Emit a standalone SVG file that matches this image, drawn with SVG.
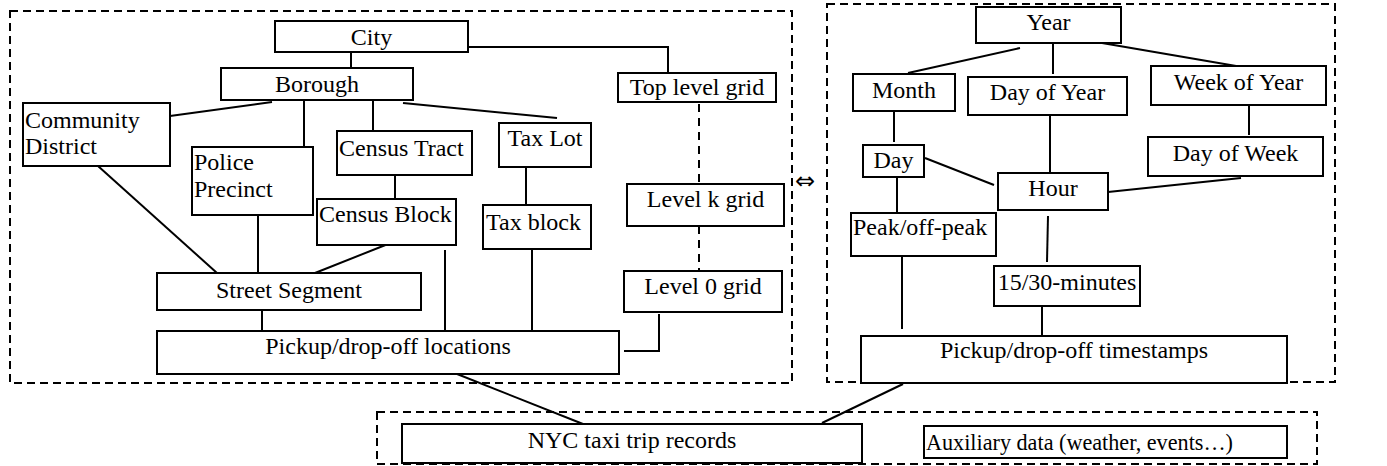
<svg xmlns="http://www.w3.org/2000/svg" width="1387" height="466" viewBox="0 0 1387 466">
  <style>
    .box { fill: #fff; stroke: #000; stroke-width: 2; }
    .frame { fill: none; stroke: #000; stroke-width: 2; stroke-dasharray: 8 5; }
    .link { fill: none; stroke: #000; stroke-width: 2; }
    .dash { fill: none; stroke: #000; stroke-width: 2; stroke-dasharray: 8 6; }
    .lbl { font-family: 'Liberation Serif', Tinos, 'Times New Roman', 'DejaVu Serif', serif; font-size: 24px; fill: #000; }
    .c { text-anchor: middle; }
  </style>
  <rect width="1387" height="466" fill="#fff"/>

  <!-- panel frames -->
  <g id="frames">
    <rect class="frame" x="10" y="11" width="782" height="372"/>
    <rect class="frame" x="827" y="4" width="508" height="378"/>
    <rect class="frame" x="377" y="412" width="940" height="52"/>
  </g>

  <!-- connectors -->
  <g id="connectors">
    <!-- spatial hierarchy -->
    <line class="link" x1="351" y1="52" x2="351" y2="68"/>
    <polyline class="link" points="468,47 668,47 668,72"/>
    <line class="link" x1="272" y1="102" x2="170" y2="116"/>
    <line class="link" x1="304" y1="100" x2="304" y2="147"/>
    <line class="link" x1="373" y1="100" x2="373" y2="131"/>
    <line class="link" x1="403" y1="103" x2="557" y2="118"/>
    <line class="link" x1="395" y1="165" x2="395" y2="199"/>
    <line class="link" x1="526" y1="167" x2="526" y2="205"/>
    <line class="link" x1="98" y1="166" x2="217" y2="273"/>
    <line class="link" x1="258" y1="213" x2="258" y2="277"/>
    <line class="link" x1="388" y1="244" x2="315" y2="273"/>
    <line class="link" x1="262" y1="310" x2="262" y2="333"/>
    <line class="link" x1="445" y1="250" x2="445" y2="331"/>
    <line class="link" x1="532" y1="249" x2="532" y2="330"/>
    <polyline class="link" points="659,314 659,351 624,351"/>
    <line class="dash" x1="699" y1="104" x2="699" y2="184"/>
    <line class="dash" x1="699" y1="226" x2="699" y2="271"/>
    <line class="link" x1="452" y1="372" x2="583" y2="424"/>
    <!-- temporal hierarchy -->
    <line class="link" x1="1020" y1="48" x2="908" y2="73"/>
    <line class="link" x1="1053" y1="43" x2="1053" y2="74"/>
    <line class="link" x1="1102" y1="43" x2="1242" y2="67"/>
    <line class="link" x1="894" y1="105" x2="894" y2="142"/>
    <line class="link" x1="1050" y1="112" x2="1050" y2="173"/>
    <line class="link" x1="1249" y1="105" x2="1249" y2="135"/>
    <line class="link" x1="925" y1="158" x2="994" y2="185"/>
    <line class="link" x1="1241" y1="178" x2="1108" y2="192"/>
    <line class="link" x1="897" y1="177" x2="897" y2="222"/>
    <line class="link" x1="1048" y1="216" x2="1047" y2="262"/>
    <line class="link" x1="902" y1="256" x2="902" y2="329"/>
    <line class="link" x1="1042" y1="306" x2="1042" y2="340"/>
    <line class="link" x1="903" y1="384" x2="822" y2="423"/>
  </g>

  <!-- equivalence mark between panels -->
  <text x="805" y="189" text-anchor="middle" font-family="'DejaVu Sans', sans-serif" font-size="24">⇔</text>

  <g class="lbl">
  <!-- spatial nodes -->
  <g id="city"><rect class="box" x="275" y="21" width="193" height="31"/><text class="c" x="371.5" y="45">City</text></g>
  <g id="borough"><rect class="box" x="221" y="68" width="192" height="32"/><text class="c" x="317" y="92">Borough</text></g>
  <g id="community-district"><rect class="box" x="23" y="103" width="147" height="63"/><text x="25" y="128">Community</text><text x="25" y="154">District</text></g>
  <g id="police-precinct"><rect class="box" x="192" y="147" width="121" height="68"/><text x="194" y="170">Police</text><text x="194" y="197">Precinct</text></g>
  <g id="census-tract"><rect class="box" x="337" y="131" width="135" height="44"/><text x="339" y="156">Census Tract</text></g>
  <g id="census-block"><rect class="box" x="317" y="199" width="139" height="46"/><text x="319" y="222">Census Block</text></g>
  <g id="tax-lot"><rect class="box" x="499" y="123" width="92" height="44"/><text class="c" x="545" y="146">Tax Lot</text></g>
  <g id="tax-block"><rect class="box" x="483" y="205" width="108" height="44"/><text x="486" y="230">Tax block</text></g>
  <g id="top-level-grid"><rect class="box" x="618" y="73" width="158" height="29"/><text class="c" x="697" y="95">Top level grid</text></g>
  <g id="level-k-grid"><rect class="box" x="627" y="184" width="157" height="42"/><text class="c" x="705.5" y="207">Level k grid</text></g>
  <g id="level-0-grid"><rect class="box" x="624" y="271" width="158" height="41"/><text class="c" x="703" y="294">Level 0 grid</text></g>
  <g id="street-segment"><rect class="box" x="157" y="273" width="264" height="37"/><text class="c" x="289" y="298">Street Segment</text></g>
  <g id="pickup-locations"><rect class="box" x="157" y="331" width="462" height="43"/><text class="c" x="388" y="354">Pickup/drop-off locations</text></g>

  <!-- temporal nodes -->
  <g id="year"><rect class="box" x="976" y="7" width="145" height="36"/><text class="c" x="1048.5" y="30">Year</text></g>
  <g id="month"><rect class="box" x="853" y="74" width="102" height="37"/><text class="c" x="904" y="98">Month</text></g>
  <g id="day-of-year"><rect class="box" x="968" y="77" width="159" height="38"/><text class="c" x="1047.5" y="100">Day of Year</text></g>
  <g id="week-of-year"><rect class="box" x="1151" y="66" width="175" height="39"/><text class="c" x="1238.5" y="90">Week of Year</text></g>
  <g id="day-of-week"><rect class="box" x="1148" y="137" width="175" height="39"/><text class="c" x="1235.5" y="161">Day of Week</text></g>
  <g id="day"><rect class="box" x="863" y="145" width="61" height="32"/><text class="c" x="893.5" y="168">Day</text></g>
  <g id="hour"><rect class="box" x="998" y="173" width="110" height="37"/><text class="c" x="1053" y="196">Hour</text></g>
  <g id="peak-off-peak"><rect class="box" x="851" y="213" width="145" height="43"/><text x="853" y="235">Peak/off-peak</text></g>
  <g id="minutes"><rect class="box" x="994" y="266" width="146" height="40"/><text class="c" x="1067" y="290">15/30-minutes</text></g>
  <g id="pickup-timestamps"><rect class="box" x="861" y="336" width="426" height="47"/><text class="c" x="1074" y="358">Pickup/drop-off timestamps</text></g>

  <!-- data sources -->
  <g id="taxi-records"><rect class="box" x="402" y="424" width="460" height="39"/><text class="c" x="632" y="448">NYC taxi trip records</text></g>
  <g id="auxiliary-data"><rect class="box" x="924" y="426" width="363" height="32"/><text x="926" y="450" textLength="307" lengthAdjust="spacingAndGlyphs">Auxiliary data (weather, events…)</text></g>
  </g>
</svg>
